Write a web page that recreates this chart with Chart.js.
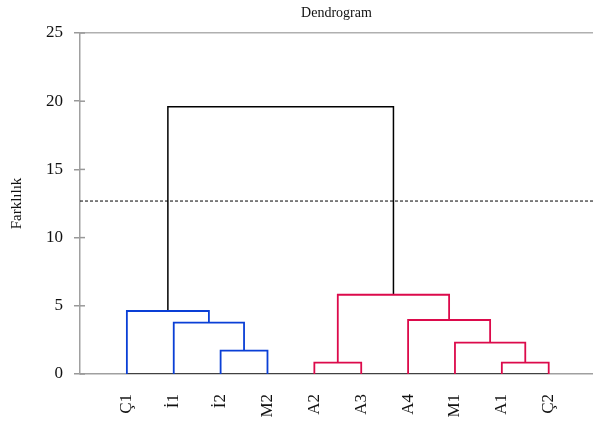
<!DOCTYPE html>
<html lang="tr">
<head>
    <meta charset="UTF-8">
    <title>Dendrogram</title>
    <script src="https://cdn.jsdelivr.net/npm/chart.js"></script>
    <style>
        html, body { margin: 0; padding: 0; background: #fff; }
        #box { width: 593px; height: 425px; }
    </style>
</head>
<body>
<div id="box"><canvas id="myChart"></canvas></div>
<script>
    // leaves, left to right
    const leaves = ['Ç1', 'İ1', 'İ2', 'M2', 'A2', 'A3', 'A4', 'M1', 'A1', 'Ç2'];
    // merges: node ids 0-9 are leaves, merge k makes node 10+k
    const mergeLeft   = [2, 1, 0, 4, 8, 7, 6, 13, 12];
    const mergeRight  = [3, 10, 11, 5, 9, 14, 15, 16, 17];
    const mergeHeight = [1.71, 3.76, 4.62, 0.83, 0.83, 2.30, 3.96, 5.81, 19.6];
    const cutHeight = 12.68;
    const yTicks = [0, 5, 10, 15, 20, 25];

    const clusterColor = ['#0a3fd6', '#0a3fd6', '#0a3fd6', '#dc0a4b', '#dc0a4b', '#dc0a4b', '#dc0a4b', '#dc0a4b', '#000000'];

    const xMax = 10.945;
    const font = "'Liberation Serif', 'Times New Roman', serif";

    // node positions / heights
    const pos = leaves.map((l, i) => i + 1);
    const hgt = leaves.map(() => 0);
    const datasets = [];
    mergeHeight.forEach((h, k) => {
        const a = mergeLeft[k], b = mergeRight[k];
        datasets.push({
            data: [{x: pos[a], y: hgt[a]}, {x: pos[a], y: h}, {x: pos[b], y: h}, {x: pos[b], y: hgt[b]}],
            borderColor: clusterColor[k],
            borderWidth: k === 8 ? 1.5 : 1.8
        });
        pos.push((pos[a] + pos[b]) / 2);
        hgt.push(h);
    });
    // baseline under the leaves
    datasets.push({
        data: [{x: 1, y: 0}, {x: leaves.length, y: 0}],
        borderColor: '#222', borderWidth: 1.5
    });
    // cut line
    datasets.push({
        data: [{x: 0, y: cutHeight}, {x: xMax, y: cutHeight}],
        borderColor: '#000', borderWidth: 1, borderDash: [3, 2]
    });
    datasets.forEach(d => { d.pointRadius = 0; d.tension = 0; d.fill = false; });

    // small tick marks that go inside the plot
    const innerTicks = {
        id: 'innerTicks',
        afterDraw(chart) {
            const c = chart.ctx, ys = chart.scales.y, left = chart.chartArea.left;
            c.save();
            c.strokeStyle = '#999';
            c.lineWidth = 1.5;
            yTicks.forEach(v => {
                const py = ys.getPixelForValue(v);
                c.beginPath();
                c.moveTo(left, py);
                c.lineTo(left + 5, py);
                c.stroke();
            });
            c.restore();
        }
    };

    new Chart(document.getElementById('myChart'), {
        type: 'line',
        data: { datasets: datasets },
        plugins: [innerTicks],
        options: {
            responsive: true,
            maintainAspectRatio: false,
            animation: false,
            layout: { padding: 0 },
            plugins: {
                legend: { display: false },
                tooltip: { enabled: false },
                title: {
                    display: true,
                    text: 'Dendrogram',
                    fullSize: false,
                    color: '#111',
                    font: { family: font, size: 14, weight: 'normal' },
                    padding: { top: 5, bottom: 11.2 }
                }
            },
            scales: {
                x: {
                    type: 'linear',
                    min: 0,
                    max: xMax,
                    afterBuildTicks: axis => { axis.ticks = leaves.map((l, i) => ({value: i + 1})); },
                    afterFit: axis => { axis.height = 51; },
                    ticks: {
                        autoSkip: false,
                        minRotation: 90,
                        maxRotation: 90,
                        padding: 20,
                        color: '#111',
                        font: { family: font, size: 17 },
                        callback: v => leaves[Math.round(v) - 1]
                    },
                    grid: { display: false, drawTicks: false },
                    border: { color: '#a0a0a0', width: 1.5 }
                },
                y: {
                    min: 0,
                    max: 25,
                    afterBuildTicks: axis => { axis.ticks = yTicks.map(v => ({value: v})); },
                    afterFit: axis => { axis.width = 80; },
                    ticks: {
                        padding: 11,
                        color: '#111',
                        font: { family: font, size: 17 }
                    },
                    grid: {
                        color: c => c.tick && c.tick.value === 25 ? '#b0b0b0' : 'transparent',
                        lineWidth: 1.5,
                        tickLength: 6,
                        tickColor: '#999'
                    },
                    border: { color: '#a0a0a0', width: 1.5 },
                    title: {
                        display: true,
                        text: 'Farklılık',
                        color: '#111',
                        font: { family: font, size: 15 },
                        padding: { top: 8, bottom: 0 }
                    }
                }
            }
        }
    });
</script>
</body>
</html>
